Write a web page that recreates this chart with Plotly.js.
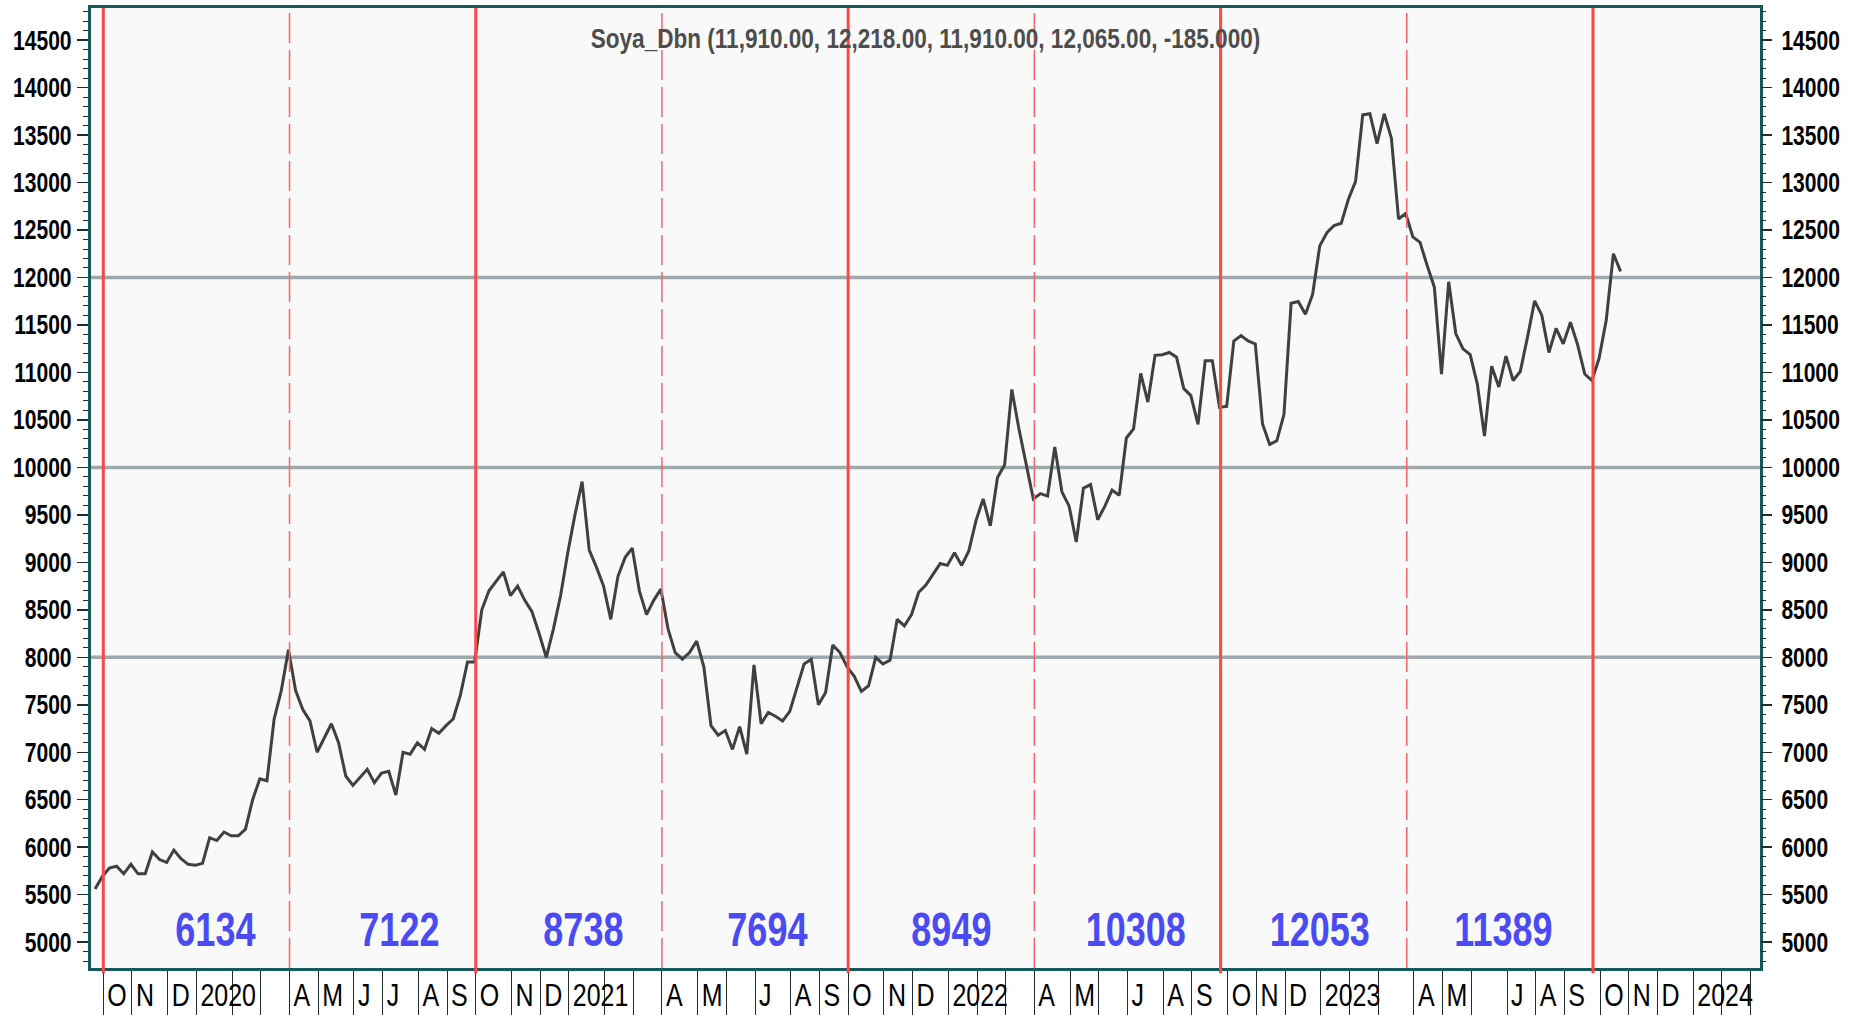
<!DOCTYPE html>
<html>
<head>
<meta charset="utf-8">
<script src="https://cdn.plot.ly/plotly-3.0.1.min.js"></script>
<style>
  html, body { margin: 0; padding: 0; background: #ffffff; }
  #chart { width: 1855px; height: 1015px; }
</style>
</head>
<body>
<div id="chart"></div>
<script>
// ---- Data (weekly closes, Soya_Dbn) ----
const soyaWeekly = [
  // Sep 2019 - Sep 2020
  5560, 5690, 5780, 5800, 5720, 5820, 5720, 5720, 5950, 5870, 5840, 5970, 5880, 5820, 5810, 5830,
  6100, 6070, 6160, 6120, 6120, 6190, 6500, 6720, 6700, 7350, 7650, 8080, 7650, 7450, 7330, 7000,
  7150, 7300, 7100, 6750, 6650, 6730, 6820, 6680, 6780, 6800, 6550, 7000, 6980, 7100, 7030, 7250,
  7200, 7280, 7350, 7600, 7950,
  // Oct 2020 - Sep 2021
  7950, 8500, 8700, 8800, 8900, 8650, 8750, 8600, 8480, 8250, 8000, 8300, 8650, 9100, 9500, 9850,
  9130, 8950, 8750, 8400, 8850, 9050, 9150, 8700, 8450, 8600, 8720, 8300, 8050, 7980, 8050, 8170,
  7900, 7280, 7180, 7230, 7030, 7270, 6980, 7920, 7300, 7420, 7380, 7330, 7430, 7680, 7930, 7980,
  7500, 7630, 8130, 8050,
  // Oct 2021 - Sep 2022
  7900, 7800, 7640, 7700, 8000, 7930, 7970, 8400, 8330, 8450, 8685, 8760, 8874, 8987, 8968, 9100,
  8968, 9120, 9440, 9668, 9384, 9894, 10027, 10821, 10405, 10046, 9668, 9724, 9698, 10216, 9743, 9592,
  9214, 9781, 9819, 9449, 9592, 9762, 9705, 10310, 10405, 10990, 10688, 11180, 11187, 11210, 11161, 10832,
  10756, 10454, 11123, 11123, 10632,
  // Oct 2022 - Oct 2023
  10643, 11331, 11388, 11331, 11300, 10461, 10242, 10280, 10556, 11728, 11747, 11614, 11822, 12333, 12472, 12548,
  12571, 12824, 13013, 13712, 13724, 13410, 13724, 13467, 12616, 12673, 12427, 12370, 12125, 11898, 10983, 11955,
  11407, 11248, 11187, 10877, 10329, 11066, 10847, 11172, 10915, 11010, 11369, 11754, 11603, 11210, 11463, 11301,
  11528, 11293, 10983, 10915, 11149, 11550, 12250, 12065
];

// Month ticks (position in weekly bars) and their labels
const monthTickPos = [
  1.5, 5.5, 10.5, 14.5, 19.5, 23.5, 27.5, 31.5, 36.5, 40.5, 45.5, 49.5,
  53.5, 58.5, 62.5, 66.5, 71.5, 75.5, 79.5, 84.5, 88.5, 92.5, 97.5, 101.5,
  105.5, 110.5, 114.5, 119.5, 123.5, 127.5, 131.5, 136.5, 140.5, 144.5, 149.5, 153.5,
  158.5, 162.5, 166.5, 171.5, 175.5, 179.5, 184.5, 188.5, 192.5, 197.5, 201.5, 205.5,
  210.5, 214.5, 218.5, 223.5, 227.5, 231.5
];
const monthTickText = [
  'O', 'N', 'D', '2020', '', '', 'A', 'M', 'J', 'J', 'A', 'S',
  'O', 'N', 'D', '2021', '', '', 'A', 'M', '', 'J', 'A', 'S',
  'O', 'N', 'D', '2022', '', '', 'A', 'M', '', 'J', 'A', 'S',
  'O', 'N', 'D', '2023', '', '', 'A', 'M', '', 'J', 'A', 'S',
  'O', 'N', 'D', '2024', '', ''
];

// Half-year cycle boundaries (bars) and the average printed for each half-year
const cycleLinePos = [1.5, 27.5, 53.5, 79.5, 105.5, 131.5, 157.5, 183.5, 209.5];
const cycleAverages = [6134, 7122, 8738, 7694, 8949, 10308, 12053, 11389];

// Horizontal reference levels
const levelLines = [8000, 10000, 12000];

// Last bar quote shown in the header
const quoteName = 'Soya_Dbn';
const quoteValues = [11910, 12218, 11910, 12065];
const quoteChange = -185;

// ---- Styling ----
const FONT = "'Liberation Sans', Arial, sans-serif";
const TEAL = '#15595a';
const TICK = '#1e2e2e';
const xRange = [-0.22, 232.82];
const yRange = [4728, 14838];
const BAR_OFFSET = 0.35;   // bars are drawn slightly right of the tick grid

const fmt2 = v => v.toLocaleString('en-US', {minimumFractionDigits: 2, maximumFractionDigits: 2});
const titleText = quoteName + ' (' + quoteValues.map(fmt2).join(', ') + ', ' +
  quoteChange.toFixed(3) + ')';

const shapes = [];
levelLines.forEach(v => shapes.push({
  type: 'line', xref: 'paper', yref: 'y', x0: 0, x1: 1, y0: v, y1: v,
  line: {color: '#9ea8ad', width: 3.5}, layer: 'below'
}));
cycleLinePos.forEach((p, i) => {
  const solid = i % 2 === 0;
  shapes.push({
    type: 'line', xref: 'x', yref: 'paper', x0: p, x1: p,
    y0: solid ? -0.0055 : 0, y1: 1,
    line: solid ? {color: '#ff4747', width: 3} : {color: '#ff6464', width: 1.5, dash: '30px,7px'},
    layer: 'above'
  });
});

// average labels sit a little past the middle of each half-year, drifting left slowly
const annotations = cycleAverages.map((v, i) => ({
  x: cycleLinePos[i] + 15.6 - 0.3 * i,
  xref: 'x', y: 0.04, yref: 'paper',
  text: String(v), showarrow: false, xanchor: 'center', yanchor: 'middle',
  font: {family: FONT, size: 48, color: '#4b4bf6', weight: 'bold'}
}));

const trace = {
  y: soyaWeekly, x0: BAR_OFFSET, dx: 1, type: 'scatter', mode: 'lines',
  line: {color: '#404040', width: 3}, hoverinfo: 'skip'
};

const yCommon = {
  range: yRange, tick0: 5000, dtick: 500, tickformat: 'd', showgrid: false, zeroline: false,
  ticks: 'outside', ticklen: 11, tickwidth: 1.5, tickcolor: TICK,
  minor: {dtick: 100, tick0: 5000, ticks: 'outside', ticklen: 5, tickwidth: 1, tickcolor: TICK, showgrid: false},
  tickfont: {family: FONT, size: 27, color: '#000000', weight: 'bold'}
};

const layout = {
  width: 1855, height: 1015,
  margin: {l: 91, r: 95, t: 8, b: 47, pad: 0},
  paper_bgcolor: '#ffffff', plot_bgcolor: '#f9f9f9',
  showlegend: false,
  title: {
    text: titleText, xref: 'paper', x: 0.5, xanchor: 'center',
    yref: 'container', y: 1 - 38 / 1015, yanchor: 'middle',
    font: {family: FONT, size: 27.5, color: '#4d4d4d', weight: 'bold'}
  },
  xaxis: {
    range: xRange, tickmode: 'array', tickvals: monthTickPos, ticktext: monthTickPos.map(() => ''),
    showticklabels: false, ticks: 'outside', ticklen: 47, tickwidth: 1, tickcolor: TICK,
    showgrid: false, zeroline: false, showline: true, linecolor: TEAL, linewidth: 3, mirror: true
  },
  xaxis2: {
    range: xRange, overlaying: 'x', anchor: 'y', side: 'bottom',
    tickmode: 'array', tickvals: monthTickPos, ticktext: monthTickText, tickangle: 0,
    ticks: '', ticklabelposition: 'outside right', ticklabelshift: 4, ticklabelstandoff: 5,
    showgrid: false, zeroline: false, showline: false,
    tickfont: {family: FONT, size: 32, color: '#000000'}
  },
  yaxis: Object.assign({}, yCommon, {
    showline: true, linecolor: TEAL, linewidth: 3, mirror: true, side: 'left'
  }),
  yaxis2: Object.assign({}, yCommon, {
    overlaying: 'y', side: 'right', anchor: 'x', showline: false, ticklabelstandoff: 4
  }),
  shapes: shapes,
  annotations: annotations
};

// invisible trace to activate the secondary axes
const axisTrace = {
  x: [xRange[0]], y: [yRange[0]], xaxis: 'x2', yaxis: 'y2', type: 'scatter', mode: 'markers',
  marker: {opacity: 0}, hoverinfo: 'skip', showlegend: false
};

// give the texts the narrow look of the original chart face
const condense = [
  ['.ytick text, .y2tick text', 0.78],
  ['.xtick text, .x2tick text', 0.78],
  ['.annotation-text', 0.75],
  ['.gtitle', 0.82]
];
function condenseTexts(gd) {
  condense.forEach(([sel, ratio]) => {
    gd.querySelectorAll(sel).forEach(t => {
      const w = t.getComputedTextLength();
      if (w > 0) {
        t.setAttribute('textLength', (w * ratio).toFixed(2));
        t.setAttribute('lengthAdjust', 'spacingAndGlyphs');
      }
    });
  });
}

Plotly.newPlot('chart', [trace, axisTrace], layout, {staticPlot: true, displayModeBar: false})
  .then(condenseTexts);
</script>
</body>
</html>
